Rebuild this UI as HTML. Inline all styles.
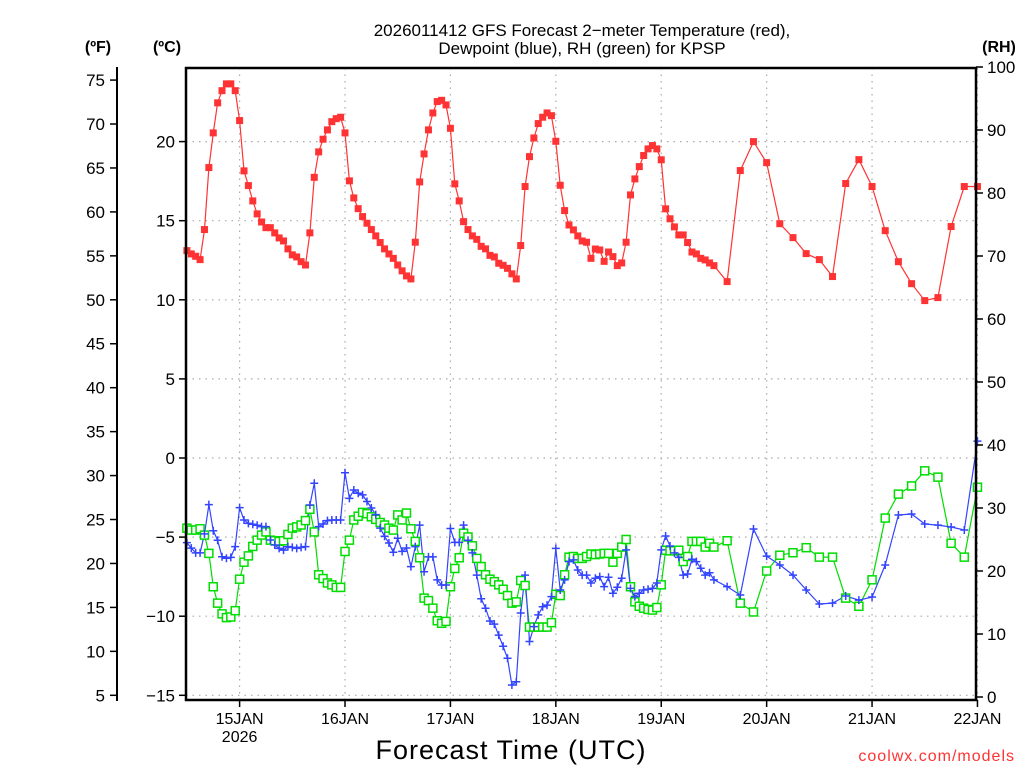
<!DOCTYPE html>
<html><head><meta charset="utf-8"><style>
html,body{margin:0;padding:0;background:#fff;}
svg{display:block;font-family:"Liberation Sans",sans-serif;}
</style></head><body>
<svg id="chart" width="1024" height="768" xmlns="http://www.w3.org/2000/svg">
<g id="grid"></g>
<g id="series"></g>
<g id="axes"></g>
<text x="582" y="36" text-anchor="middle" font-size="17" fill="#000">2026011412 GFS Forecast 2−meter Temperature (red),</text>
<text x="582" y="54" text-anchor="middle" font-size="17" fill="#000">Dewpoint (blue), RH (green) for KPSP</text>
<text x="98" y="52" text-anchor="middle" font-size="16" font-weight="bold">(ºF)</text>
<text x="167" y="52" text-anchor="middle" font-size="16" font-weight="bold">(ºC)</text>
<text x="999" y="52" text-anchor="middle" font-size="16" font-weight="bold">(RH)</text>
<text x="511" y="759" text-anchor="middle" font-size="27" letter-spacing="1">Forecast Time (UTC)</text>
<text x="1015" y="761" text-anchor="end" font-size="16" fill="#ff3333" letter-spacing="1">coolwx.com/models</text>
</svg>
<script>
const hours=[0,1,2,3,4,5,6,7,8,9,10,11,12,13,14,15,16,17,18,19,20,21,22,23,24,25,26,27,28,29,30,31,32,33,34,35,36,37,38,39,40,41,42,43,44,45,46,47,48,49,50,51,52,53,54,55,56,57,58,59,60,61,62,63,64,65,66,67,68,69,70,71,72,73,74,75,76,77,78,79,80,81,82,83,84,85,86,87,88,89,90,91,92,93,94,95,96,97,98,99,100,101,102,103,104,105,106,107,108,109,110,111,112,113,114,115,116,117,118,119,120,123,126,129,132,135,138,141,144,147,150,153,156,159,162,165,168,171,174,177,180];
const tempC=[13.11,12.9,12.75,12.54,14.44,18.36,20.55,22.45,23.22,23.65,23.65,23.22,21.33,18.15,17.22,16.25,15.43,14.92,14.56,14.56,14.23,13.91,13.72,13.22,12.84,12.71,12.41,12.2,14.23,17.74,19.35,20.15,20.74,21.26,21.45,21.54,20.55,17.52,16.44,15.76,15.26,14.84,14.44,14.04,13.62,13.22,12.9,12.62,12.2,11.83,11.51,11.32,13.64,17.45,19.22,20.74,21.81,22.53,22.61,22.32,20.84,17.33,16.25,14.94,14.44,14.04,13.82,13.38,13.22,12.81,12.71,12.31,12.18,11.99,11.64,11.32,13.43,17.16,19.05,20.23,21.14,21.54,21.81,21.64,20.02,17.24,15.64,14.73,14.42,14.04,13.72,13.64,12.62,13.21,13.15,12.43,13.02,12.73,12.16,12.33,13.64,16.63,17.64,18.42,19.12,19.54,19.75,19.54,18.85,15.75,15.12,14.61,14.1,14.1,13.62,13.02,12.9,12.62,12.52,12.33,12.16,11.15,18.17,20.0,18.67,14.81,13.93,12.92,12.54,11.47,17.35,18.86,17.16,14.37,12.41,11.02,9.95,10.14,14.63,17.16,17.16];
const dewC=[-5.35,-5.7,-6.0,-6.0,-4.8,-2.95,-4.6,-5.2,-6.24,-6.34,-6.28,-5.6,-3.14,-3.92,-4.13,-4.19,-4.25,-4.34,-4.34,-5.18,-5.5,-5.71,-5.82,-5.6,-5.65,-5.71,-5.65,-5.6,-2.97,-1.6,-4.34,-4.17,-3.96,-3.92,-3.92,-3.92,-0.93,-2.55,-2.02,-2.23,-2.33,-2.75,-3.16,-3.58,-4.43,-4.95,-5.37,-5.96,-5.07,-5.9,-5.69,-6.87,-5.6,-4.24,-7.19,-6.25,-6.25,-7.7,-8.03,-8.03,-4.46,-5.33,-5.33,-4.24,-5.2,-6.0,-7.4,-8.9,-9.5,-10.3,-10.5,-11.2,-11.9,-12.66,-14.35,-14.14,-9.8,-7.4,-11.6,-10.66,-9.92,-9.4,-9.3,-8.76,-5.71,-8.34,-7.7,-6.55,-6.44,-7.08,-7.4,-7.4,-7.9,-7.6,-7.5,-8.13,-7.54,-8.55,-8.17,-7.6,-5.81,-8.24,-8.76,-8.55,-8.34,-8.3,-8.24,-7.9,-5.81,-4.93,-5.56,-6.0,-6.28,-7.4,-7.33,-6.4,-6.55,-6.97,-7.4,-7.25,-7.7,-8.13,-8.66,-4.49,-6.2,-6.76,-7.4,-8.34,-9.23,-9.17,-8.72,-8.98,-8.79,-6.76,-3.6,-3.54,-4.17,-4.24,-4.36,-4.55,1.07];
const rh=[26.8,26.5,26.5,26.7,25.7,22.8,17.5,14.9,13.2,12.6,12.7,13.7,18.7,21.4,22.4,23.9,24.9,25.7,26.2,24.9,24.8,24.7,24.8,25.8,26.8,27.0,27.3,28.0,29.8,26.2,19.4,18.8,18.1,17.8,17.4,17.4,23.1,24.9,28.1,28.7,29.3,29.1,28.6,28.2,27.7,27.3,26.8,26.5,28.9,28.1,29.2,26.7,24.7,22.1,15.7,15.3,14.1,12.1,11.7,12.0,17.5,20.4,22.1,26.0,25.4,24.0,22.0,20.7,19.4,18.7,18.3,17.8,17.1,16.1,14.9,15.1,18.5,17.7,11.1,11.1,11.1,11.1,11.1,11.8,16.3,16.1,19.4,22.2,22.3,22.0,22.0,22.3,22.7,22.6,22.7,22.8,22.8,21.4,22.8,23.8,25.0,17.5,15.1,14.4,14.1,13.9,13.8,14.2,17.8,23.3,23.2,23.2,23.3,21.5,22.3,24.7,24.7,24.7,23.8,24.4,23.8,24.8,14.9,13.5,20.0,22.5,22.9,23.7,22.2,22.2,15.7,14.4,18.6,28.4,32.2,33.5,35.9,34.9,24.4,22.2,33.3];
const dayLabels=["15JAN","16JAN","17JAN","18JAN","19JAN","20JAN","21JAN","22JAN"];
const cTicks=[20,15,10,5,0,-5,-10,-15];
const fTicks=[75,70,65,60,55,50,45,40,35,30,25,20,15,10,5];
const rhTicks=[0,10,20,30,40,50,60,70,80,90,100];

const NS="http://www.w3.org/2000/svg";
const X0=186.9,PXH=4.392;
const xH=h=>X0+h*PXH;
const yC=c=>458-15.82*c;
const yF=f=>yC((f-32)/1.8);
const yRH=r=>697-6.3*r;
function mk(tag,attrs,parent,txt){const e=document.createElementNS(NS,tag);for(const k in attrs)e.setAttribute(k,attrs[k]);if(txt!==undefined)e.textContent=txt;parent.appendChild(e);return e;}
const grid=document.getElementById('grid'),axes=document.getElementById('axes'),ser=document.getElementById('series');
const dash={stroke:'#aaa','stroke-width':1.2,'stroke-dasharray':'1.5 5'};
dayLabels.forEach((d,i)=>{const x=xH(12+24*i);
 const l=mk('line',Object.assign({x1:x,x2:x,y1:68,y2:700},dash),grid);
 
 
 const t=mk('line',{x1:x,x2:x,y1:700,y2:707,stroke:'#000','stroke-width':1.5},axes);
 
 
 const tx=mk('text',{x:x,y:724,'text-anchor':'middle','font-size':16},axes,d);
 
 
});
const yr=mk('text',{x:xH(12),y:742,'text-anchor':'middle','font-size':16},axes,'2026');


cTicks.forEach(c=>{const y=yC(c);
 const l=mk('line',Object.assign({x1:186,x2:976,y1:y,y2:y},dash),grid);
 
 
 const t=mk('line',{x1:179,x2:186,y1:y,y2:y,stroke:'#000','stroke-width':1.5},axes);
 
 
 const tx=mk('text',{x:175,y:y+6,'text-anchor':'end','font-size':17},axes,String(c).replace('-','−'));
 
 
});
fTicks.forEach(f=>{const y=yF(f);
 const t=mk('line',{x1:110,x2:117,y1:y,y2:y,stroke:'#000','stroke-width':1.5},axes);
 
 
 const tx=mk('text',{x:105,y:y+6,'text-anchor':'end','font-size':17},axes,String(f));
 
 
});
rhTicks.forEach(r=>{const y=yRH(r);
 const t=mk('line',{x1:976,x2:983,y1:y,y2:y,stroke:'#000','stroke-width':1.5},axes);
 
 
 const tx=mk('text',{x:987,y:y+6,'text-anchor':'start','font-size':17},axes,String(r));
 
 
});
const fl=mk('line',{x1:117,x2:117,y1:67,y2:701,stroke:'#000','stroke-width':2},axes);


const fr=mk('rect',{x:186,y:68,width:790,height:632,fill:'none',stroke:'#000','stroke-width':2.5},axes);


function line(vals,yf,color,name){
 const pts=vals.map((v,i)=>xH(hours[i]).toFixed(1)+','+yf(v).toFixed(1)).join(' ');
 const p=mk('polyline',{points:pts,fill:'none',stroke:color,'stroke-width':1.2},ser);
 
 
}
line(rh,yRH,'#00dd00','rh');
line(dewC,yC,'#3344ff','dewpoint');
line(tempC,yC,'#ff3333','temperature');
rh.forEach((v,i)=>{const x=xH(hours[i]),y=yRH(v);
 const r=mk('rect',{x:x-4,y:y-4,width:8,height:8,fill:'#fff',stroke:'#00dd00','stroke-width':1.5},ser);
 
 
});
dewC.forEach((v,i)=>{const x=xH(hours[i]),y=yC(v);
 const p=mk('path',{d:`M${x-4},${y}H${x+4}M${x},${y-4}V${y+4}`,stroke:'#3344ff','stroke-width':1.5},ser);
 
 
});
tempC.forEach((v,i)=>{const x=xH(hours[i]),y=yC(v);
 const r=mk('rect',{x:x-3.5,y:y-3.5,width:7,height:7,fill:'#ff3333'},ser);
 
 
});
</script>
</body></html>
